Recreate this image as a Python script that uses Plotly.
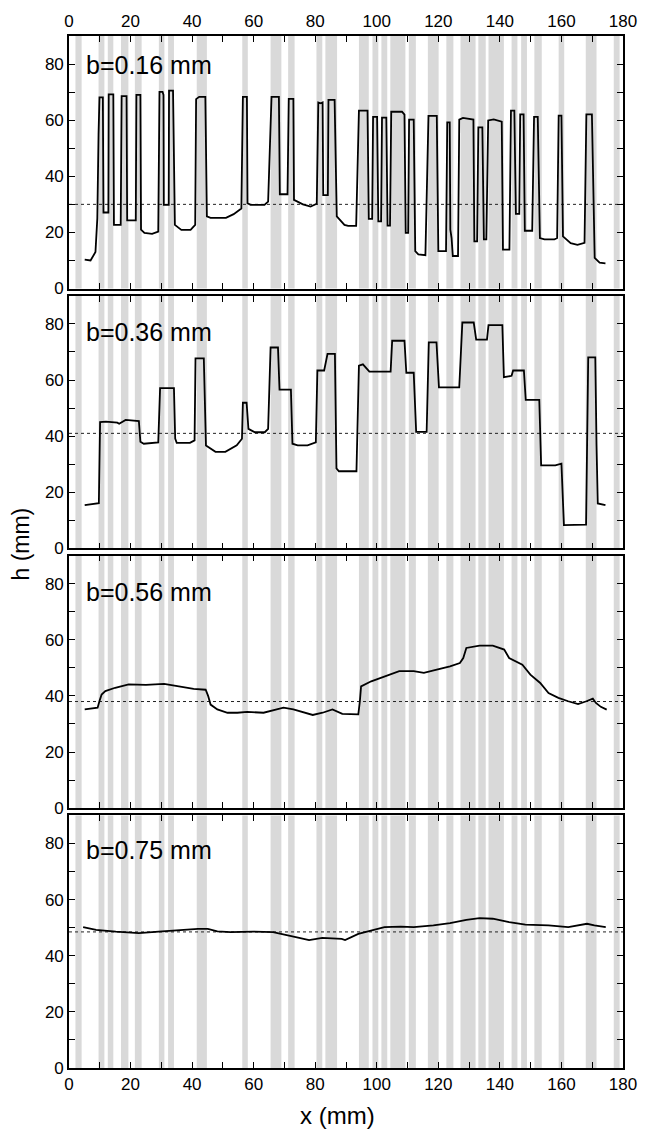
import plotly.graph_objects as go
from plotly.subplots import make_subplots

# ---------------- data ----------------
labels = ["b=0.16 mm", "b=0.36 mm", "b=0.56 mm", "b=0.75 mm"]
ref_levels = [30, 41, 38, 48.5]

band_start = [2.1, 9.6, 12.6, 16.9, 21.4, 29.2, 32.2, 41.5, 56.3, 65.5, 71.2, 80.4, 83.3,
              94.2, 98.6, 101.5, 104.4, 110.4, 116.6, 122.6, 127.2, 133.0, 136.3, 143.8,
              146.9, 151.2, 159.1, 167.9, 177.0]
band_end = [4.1, 11.5, 14.4, 19.3, 23.6, 31.0, 34.1, 44.8, 58.1, 69.0, 73.3, 82.3, 87.1,
            97.4, 100.5, 103.4, 109.3, 112.7, 120.1, 124.9, 132.1, 135.4, 141.3, 145.7,
            148.8, 153.6, 160.9, 171.4, 178.9]

x1 = [5.1, 7.0, 8.6, 9.2, 9.6, 9.9, 11.0, 11.2, 12.8, 12.9, 14.4, 14.6, 16.8, 17.1, 18.7, 18.9,
      21.7, 21.9, 23.2, 23.4, 24.5, 27.0, 29.0, 29.4, 30.4, 30.7, 30.8, 32.4, 32.5, 33.8, 34.4,
      36.5, 39.5, 41.0, 41.3, 42.3, 44.3, 44.8, 46.0, 51.0, 53.5, 56.0, 56.5, 57.8, 58.0, 59.0,
      63.5, 64.7, 65.8, 68.2, 68.5, 71.0, 71.4, 72.9, 73.1, 76.0, 78.5, 80.5, 81.0, 81.8, 82.4,
      82.6, 84.1, 84.3, 86.3, 87.0, 89.5, 90.7, 93.3, 94.2, 97.0, 97.4, 98.5, 98.8, 100.1, 100.5,
      101.4, 101.7, 103.1, 103.5, 104.3, 104.7, 108.2, 109.0, 109.4, 110.2, 110.5, 112.0, 112.5,
      113.5, 115.8, 116.8, 119.5, 120.0, 122.5, 122.9, 123.7, 123.9, 124.3, 124.7, 126.4, 126.8,
      128.0, 131.4, 131.7, 132.6, 133.0, 134.3, 134.8, 135.6, 136.2, 138.0, 140.6, 141.0, 143.1,
      143.6, 144.7, 145.2, 146.3, 146.6, 147.7, 148.1, 150.5, 151.1, 152.3, 153.0, 154.5, 157.7,
      158.6, 159.1, 160.0, 160.5, 163.0, 165.2, 167.5, 168.1, 169.9, 170.8, 172.4, 174.3]
h1 = [10.3, 10.0, 13, 25, 55, 68.1, 68.1, 27.1, 27.1, 69.2, 69.2, 22.7, 22.7, 68.6, 68.6, 24.3,
      24.3, 69, 69, 21, 19.8, 19.5, 20.3, 70.1, 70.1, 69, 29.8, 29.8, 70.5, 70.5, 22.7,
      20.9, 20.9, 22.7, 67.5, 68.3, 68.3, 25.7, 25.2, 25.2, 26.5, 28.5, 68.3, 68.3, 30.4, 29.8,
      29.8, 31, 68.3, 68.3, 33.6, 33.6, 67.6, 67.6, 31.6, 30, 29.2, 30.2, 66.3, 66, 66.3,
      33.3, 33.3, 67.2, 67.2, 25.7, 22.7, 22.3, 22.3, 63.4, 63.4, 24.8, 24.8, 61.2, 61.2, 23.9,
      23.9, 60.9, 60.9, 22.4, 22.4, 63, 63, 62, 19.8, 19.8, 60.2, 60.2, 13.3,
      12.2, 11.9, 61.5, 61.5, 13.3, 13.3, 59.2, 59.2, 21, 18, 11.6, 11.6, 60.2,
      60.8, 60.2, 16.8, 16.8, 57.4, 57.4, 17.5, 17.5, 59.9, 60.3, 59.5, 13.9, 13.9,
      63.4, 63.4, 26.6, 26.6, 62.1, 62.1, 20.6, 20.6, 61.2, 61.2, 18, 17.5, 17.5,
      18, 61.6, 61.6, 18.6, 16.2, 15.6, 16.3, 62.1, 62.1, 10.9, 9.2, 9.0]

x2 = [5.1, 9.7, 10.1, 12.0, 15.7, 16.3, 18.4, 22.7, 23.2, 24.3, 29.0, 29.6, 34.1, 34.5, 35.0,
      39.3, 40.8, 41.1, 43.8, 44.5, 47.6, 50.8, 54.5, 56.2, 56.5, 57.7, 58.3, 60.4, 63.6, 64.7,
      65.5, 67.9, 68.4, 72.1, 72.6, 74.3, 77.5, 80.2, 80.7, 82.9, 84.0, 86.4, 86.9, 87.7, 93.4,
      94.2, 95.5, 96.5, 97.6, 104.5, 105.0, 109.0, 109.6, 112.0, 112.8, 116.2, 116.9, 119.4,
      120.2, 126.8, 127.8, 131.5, 132.3, 135.8, 136.3, 140.8, 141.3, 143.8, 144.3, 147.8, 148.4,
      152.8, 153.4, 158.0, 160.0, 160.8, 168.0, 168.7, 171.0, 171.4, 171.8, 174.3]
h2 = [15.4, 16.1, 45, 45.2, 44.8, 44.4, 45.8, 45.4, 38, 37.3, 37.8, 57.1, 57.1, 39.1, 37.6,
      37.6, 38.5, 67.7, 67.7, 36.7, 34.4, 34.4, 36.7, 39.1, 51.9, 51.9, 42.6, 41.4, 41.4, 42.6,
      71.6, 71.6, 56.6, 56.6, 37.3, 36.7, 36.7, 37.8, 63.4, 63.4, 69.3, 69.3, 28.5, 27.5, 27.5,
      65.1, 65.6, 64.5, 63.0, 63.0, 74, 74, 62.6, 62.6, 41.5, 41.5, 73.4, 73.4,
      57.4, 57.4, 80.5, 80.5, 74.4, 74.4, 79.6, 79.6, 61, 61.5, 63.4, 63.4, 52.9,
      52.9, 29.6, 29.6, 30.2, 8.3, 8.5, 68.1, 68.1, 36.7, 16, 15.4]

x3 = [5.1, 9.3, 10.0, 10.6, 11.8, 15.0, 19.4, 25.0, 30.9, 35.2, 40.5, 44.4, 45.2, 46.0, 48.2,
      51.5, 54.7, 57.9, 63.2, 67.5, 69.7, 72.9, 77.1, 79.2, 82.4, 85.6, 88.8, 94.0, 94.5, 94.9,
      98.2, 102.5, 107.3, 112.0, 115.3, 119.5, 123.8, 127.0, 128.1, 129.1, 133.4, 137.7, 141.4,
      143.0, 147.3, 149.9, 153.1, 155.8, 159.0, 162.2, 165.4, 168.1, 170.2, 171.2, 172.8, 174.7]
h3 = [35.2, 35.8, 38.5, 40.5, 41.7, 42.9, 44.1, 43.9, 44.3, 43.5, 42.5, 42.2, 40, 36.9, 35.2,
      34.0, 34.0, 34.3, 34.0, 35.2, 35.8, 35.2, 34.0, 33.2, 34.0, 35.2, 33.6, 33.4, 38, 43.4,
      45.2, 47.0, 48.8, 48.8, 48.2, 49.4, 50.5, 51.7, 53.5, 57.1, 57.9, 57.9, 56.5,
      53.5, 51.1, 47.6, 44.6, 41.0, 39.3, 38.1, 37.1, 38.1, 39.0, 37.5, 36.1, 35.1]

x4 = [4.6, 8.8, 15.2, 22.7, 29.1, 36.5, 41.9, 45.1, 48.2, 52.5, 59.9, 66.3, 70.6, 74.8, 78.0,
      82.3, 88.6, 89.7, 94.0, 98.2, 102.5, 107.8, 112.0, 118.4, 123.8, 129.1, 133.4, 137.7,
      143.0, 148.3, 155.8, 162.2, 165.4, 168.3, 170.7, 174.4]
h4 = [50.2, 49.2, 48.6, 48.1, 48.6, 49.2, 49.6, 49.6, 48.7, 48.4, 48.6, 48.4, 47.5, 46.4, 45.6,
      46.4, 46.0, 45.6, 47.8, 49.0, 50.2, 50.4, 50.2, 50.8, 51.6, 52.8, 53.4, 53.2,
      52.0, 51.1, 50.8, 50.2, 50.8, 51.4, 50.8, 50.2]

xs = [x1, x2, x3, x4]
hs = [h1, h2, h3, h4]
label_y = [79.8, 77.0, 77.2, 77.8]

x_ticks = list(range(0, 181, 10))
x_ticktext = [str(v) if v % 20 == 0 else "" for v in x_ticks]
y_ticks = list(range(0, 81, 10))
y_ticktext = [str(v) if v % 20 == 0 else "" for v in y_ticks]

# ---------------- figure ----------------
FONT = "Liberation Sans, Arial, Helvetica, sans-serif"
fig = make_subplots(rows=4, cols=1, shared_xaxes=False, vertical_spacing=0.007)

for i in range(4):
    r = i + 1
    fig.add_trace(go.Scatter(x=[0, 180], y=[ref_levels[i]] * 2, mode="lines",
                             line=dict(color="#222222", width=1, dash="dot"),
                             showlegend=False, hoverinfo="skip"), row=r, col=1)
    fig.add_trace(go.Scatter(x=xs[i], y=hs[i], mode="lines",
                             line=dict(color="black", width=1.8),
                             showlegend=False), row=r, col=1)
    yref = "y" if r == 1 else f"y{r}"
    xref = "x" if r == 1 else f"x{r}"
    for s, e in zip(band_start, band_end):
        fig.add_shape(type="rect", xref=xref, yref=f"{yref} domain", x0=s, x1=e, y0=0, y1=1,
                      fillcolor="#d9d9d9", line=dict(width=0), layer="below")
    fig.add_annotation(x=5.0, y=label_y[i], xref=xref, yref=yref, text=labels[i],
                       showarrow=False, xanchor="left", yanchor="middle",
                       font=dict(family=FONT, size=25, color="black"))

h = 0.2447
gap = (1 - 4 * h) / 3
for i in range(4):
    r = i + 1
    top = 1 - i * (h + gap)
    dom = [max(0.0, round(top - h, 4)), min(1.0, round(top, 4))]
    xa = dict(range=[0, 180], tickvals=x_ticks, ticktext=x_ticktext, ticks="inside", ticklen=6,
              tickwidth=1.2, tickcolor="black", showline=True, linecolor="black", linewidth=1.6,
              mirror="ticks", showgrid=False, zeroline=False,
              tickfont=dict(family=FONT, size=17, color="black"))
    ya = dict(range=[0, 90], tickvals=y_ticks, ticktext=y_ticktext, ticks="inside", ticklen=6,
              tickwidth=1.2, tickcolor="black", showline=True, linecolor="black", linewidth=1.6,
              mirror="ticks", showgrid=False, zeroline=False, domain=dom,
              tickfont=dict(family=FONT, size=17, color="black"))
    if r == 1:
        xa.update(side="top", showticklabels=True)
    elif r == 4:
        xa.update(side="bottom", showticklabels=True)
    else:
        xa.update(showticklabels=False)
    fig.update_xaxes(xa, row=r, col=1)
    fig.update_yaxes(ya, row=r, col=1)

fig.add_annotation(x=-0.087, y=0.508, xref="paper", yref="paper", text="h (mm)",
                   showarrow=False, textangle=-90, xanchor="center", yanchor="middle",
                   font=dict(family=FONT, size=23, color="black"))
fig.add_annotation(x=0.484, y=-0.046, xref="paper", yref="paper", text="x (mm)",
                   showarrow=False, xanchor="center", yanchor="middle",
                   font=dict(family=FONT, size=24, color="black"))

fig.update_layout(width=649, height=1133, margin=dict(l=69, r=16, t=32, b=65),
                  plot_bgcolor="white", paper_bgcolor="white", showlegend=False)

fig.write_html("out.html")
